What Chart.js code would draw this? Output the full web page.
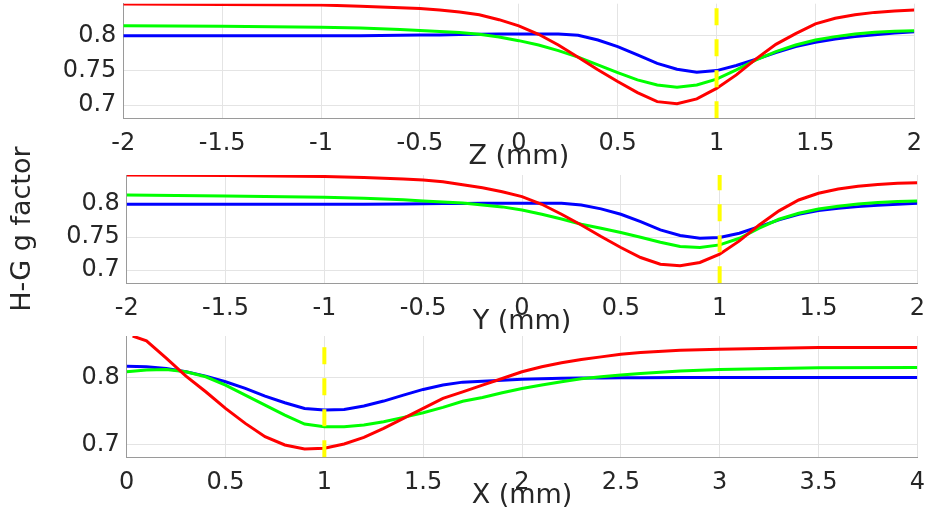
<!DOCTYPE html>
<html>
<head>
<meta charset="utf-8">
<script src="https://cdn.jsdelivr.net/npm/chart.js@4.4.1/dist/chart.umd.min.js"></script>
<style>
  html, body { margin: 0; padding: 0; background: #fff; }
  #wrap { position: relative; width: 927px; height: 521px; }
  canvas { position: absolute; left: 0; top: 0; }
</style>
</head>
<body>
<div id="wrap">
  <canvas id="z-chart" width="927" height="521"></canvas>
  <canvas id="y-chart" width="927" height="521"></canvas>
  <canvas id="x-chart" width="927" height="521"></canvas>
</div>
<script>
// ---- data ----
const zPos = [-2, -1.5, -1, -0.8, -0.6, -0.5, -0.4, -0.3, -0.2, -0.1, 0, 0.1, 0.2, 0.3, 0.4, 0.5, 0.6, 0.7, 0.8, 0.9, 1.0, 1.1, 1.2, 1.3, 1.4, 1.5, 1.6, 1.7, 1.8, 1.9, 2.0]
const zRed = [0.8455, 0.845, 0.844, 0.8425, 0.840, 0.839, 0.837, 0.834, 0.830, 0.823, 0.814, 0.802, 0.7866, 0.769, 0.751, 0.734, 0.718, 0.705, 0.702, 0.709, 0.724, 0.7435, 0.7665, 0.7875, 0.803, 0.817, 0.825, 0.830, 0.8335, 0.8355, 0.837]
const zGreen = [0.8144, 0.8135, 0.812, 0.811, 0.809, 0.8075, 0.806, 0.8045, 0.802, 0.798, 0.7928, 0.7866, 0.7784, 0.769, 0.758, 0.7468, 0.7363, 0.729, 0.7258, 0.729, 0.7373, 0.7507, 0.765, 0.777, 0.7866, 0.7938, 0.7986, 0.8024, 0.8048, 0.8062, 0.8072]
const zBlue = [0.8, 0.8, 0.8, 0.8, 0.8005, 0.801, 0.801, 0.8015, 0.802, 0.8022, 0.8025, 0.8025, 0.8022, 0.8005, 0.7938, 0.7842, 0.7722, 0.760, 0.7516, 0.7473, 0.7497, 0.757, 0.766, 0.7756, 0.7842, 0.7904, 0.7952, 0.7986, 0.8014, 0.8038, 0.8057]

const yPos = [-2, -1.5, -1, -0.8, -0.6, -0.5, -0.4, -0.3, -0.2, -0.1, 0, 0.1, 0.2, 0.3, 0.4, 0.5, 0.6, 0.7, 0.8, 0.9, 1.0, 1.1, 1.2, 1.3, 1.4, 1.5, 1.6, 1.7, 1.8, 1.9, 2.0]
const yRed = [0.8444, 0.8435, 0.842, 0.8405, 0.8385, 0.8368, 0.834, 0.8295, 0.825, 0.819, 0.8116, 0.800, 0.7848, 0.7686, 0.751, 0.7343, 0.7191, 0.709, 0.7065, 0.7116, 0.7242, 0.7444, 0.7686, 0.790, 0.8065, 0.8166, 0.823, 0.8272, 0.830, 0.8318, 0.8328]
const yGreen = [0.8141, 0.8125, 0.8106, 0.809, 0.807, 0.805, 0.8035, 0.802, 0.799, 0.796, 0.7914, 0.7848, 0.7777, 0.7697, 0.7636, 0.757, 0.75, 0.7424, 0.7358, 0.7343, 0.7383, 0.7484, 0.7636, 0.7772, 0.7863, 0.7929, 0.7969, 0.8005, 0.8025, 0.804, 0.805]
const yBlue = [0.8, 0.8, 0.8, 0.8, 0.8005, 0.8008, 0.801, 0.8012, 0.8014, 0.8015, 0.8015, 0.8015, 0.8015, 0.799, 0.793, 0.7848, 0.7737, 0.761, 0.7525, 0.7484, 0.7494, 0.756, 0.766, 0.7762, 0.7848, 0.7904, 0.7939, 0.7964, 0.7984, 0.8, 0.8015]

const xPos = [0, 0.1, 0.2, 0.3, 0.4, 0.5, 0.6, 0.7, 0.8, 0.9, 1.0, 1.1, 1.2, 1.3, 1.4, 1.5, 1.6, 1.7, 1.8, 1.9, 2.0, 2.1, 2.2, 2.3, 2.4, 2.5, 2.6, 2.8, 3.0, 3.5, 4.0]
const xRedPos = [0.03, 0.1, 0.2, 0.3, 0.4, 0.5, 0.6, 0.7, 0.8, 0.9, 1.0, 1.1, 1.2, 1.3, 1.4, 1.5, 1.6, 1.7, 1.8, 1.9, 2.0, 2.1, 2.2, 2.3, 2.4, 2.5, 2.6, 2.8, 3.0, 3.5, 4.0]
const xRed = [0.862, 0.8547, 0.829, 0.802, 0.7786, 0.7537, 0.7313, 0.7114, 0.699, 0.693, 0.694, 0.7005, 0.7104, 0.7239, 0.7388, 0.7537, 0.7687, 0.7785, 0.7886, 0.7985, 0.8085, 0.816, 0.8219, 0.8269, 0.8308, 0.8348, 0.8373, 0.8408, 0.8423, 0.8448, 0.8448]
const xGreen = [0.8085, 0.811, 0.812, 0.8085, 0.801, 0.7886, 0.7736, 0.7587, 0.7438, 0.7303, 0.7264, 0.7264, 0.7289, 0.7338, 0.7403, 0.7473, 0.7552, 0.7645, 0.7701, 0.7771, 0.7836, 0.7886, 0.7935, 0.798, 0.801, 0.8035, 0.806, 0.8095, 0.812, 0.8144, 0.8149]
const xBlue = [0.8169, 0.8159, 0.8134, 0.8085, 0.802, 0.7935, 0.7836, 0.7721, 0.7622, 0.7537, 0.7512, 0.7522, 0.7572, 0.7647, 0.7736, 0.7821, 0.7886, 0.793, 0.7945, 0.796, 0.7975, 0.7982, 0.7988, 0.7991, 0.7993, 0.7995, 0.7997, 0.7999, 0.8, 0.8, 0.8]

const focusPos = [1, 1]

const zTicks = [-2, -1.5, -1, -0.5, 0, 0.5, 1, 1.5, 2]
const yTicks = [-2, -1.5, -1, -0.5, 0, 0.5, 1, 1.5, 2]
const xTicks = [0, 0.5, 1, 1.5, 2, 2.5, 3, 3.5, 4]
const gTicksFine = [0.7, 0.75, 0.8]
const gTicksCoarse = [0.7, 0.8]

const zLimits = [0.681, 0.846]
const yLimits = [0.680, 0.8444]
const xLimits = [0.6806, 0.862]

// ---- drawing ----
const FONT = "'DejaVu Sans', sans-serif"
const TEXT = '#262626'
const GRID = '#e4e4e4'
const AXIS = '#9a9a9a'

function line(xs, ys, color) {
  return {
    data: xs.map((x, i) => ({ x, y: ys[i] })),
    borderColor: color, borderWidth: 3, pointRadius: 0, tension: 0, fill: false
  }
}

function panel(id, area, xRange, xTickVals, gTickVals, limits, series, xLabel, yLabel) {
  const xHeight = 55
  const datasets = [
    {
      data: focusPos.map((x, i) => ({ x, y: limits[i] })),
      borderColor: '#ffff00', borderWidth: 4, borderDash: [17, 14], pointRadius: 0, fill: false
    },
    line(series[0][0], series[0][1], '#ff0000'),
    line(series[1][0], series[1][1], '#00ff00'),
    line(series[2][0], series[2][1], '#0000ff')
  ]
  new Chart(document.getElementById(id), {
    type: 'line',
    data: { datasets },
    options: {
      responsive: false,
      animation: false,
      events: [],
      layout: { padding: { left: 0, top: area.top, right: 927 - area.right, bottom: 521 - area.bottom - xHeight } },
      plugins: { legend: { display: false }, tooltip: { enabled: false } },
      scales: {
        x: {
          type: 'linear', min: xRange[0], max: xRange[1],
          afterBuildTicks: s => { s.ticks = xTickVals.map(v => ({ value: v })) },
          afterFit: s => { s.height = xHeight; s.paddingLeft = 0; s.paddingRight = 0 },
          ticks: { autoSkip: false, maxRotation: 0, padding: 11, color: TEXT, font: { family: FONT, size: 24 }, callback: v => String(v) },
          grid: { color: GRID, drawTicks: false },
          border: { color: AXIS },
          title: { display: true, text: xLabel, color: TEXT, font: { family: FONT, size: 27 }, padding: 0 }
        },
        y: {
          type: 'linear', min: limits[0], max: limits[1],
          afterBuildTicks: s => { s.ticks = gTickVals.map(v => ({ value: v })) },
          afterFit: s => { s.width = area.left; s.paddingTop = 0; s.paddingBottom = 0 },
          ticks: { padding: 7, color: TEXT, font: { family: FONT, size: 24 }, callback: v => String(v) },
          grid: { color: GRID, drawTicks: false },
          border: { color: AXIS },
          title: { display: !!yLabel, text: yLabel || '', color: TEXT, font: { family: FONT, size: 27 }, padding: { top: 7, bottom: 0 } }
        }
      }
    }
  })
}

panel('z-chart', { left: 123.3, top: 3.7, right: 914.3, bottom: 118.3 }, [-2, 2], zTicks, gTicksFine, zLimits,
  [[zPos, zRed], [zPos, zGreen], [zPos, zBlue]], 'Z (mm)')
panel('y-chart', { left: 126.7, top: 175, right: 917.3, bottom: 283.3 }, [-2, 2], yTicks, gTicksFine, yLimits,
  [[yPos, yRed], [yPos, yGreen], [yPos, yBlue]], 'Y (mm)', 'H-G g factor')
panel('x-chart', { left: 126.7, top: 336, right: 917.3, bottom: 457.3 }, [0, 4], xTicks, gTicksCoarse, xLimits,
  [[xRedPos, xRed], [xPos, xGreen], [xPos, xBlue]], 'X (mm)')
</script>
</body>
</html>
